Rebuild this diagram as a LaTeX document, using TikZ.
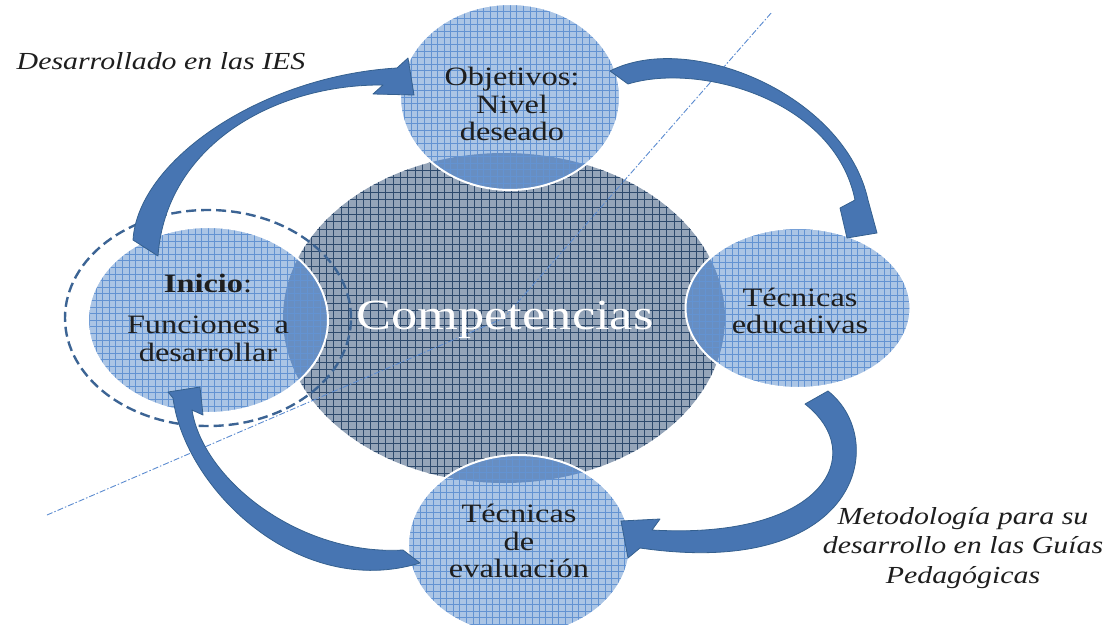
\documentclass[tikz,border=0pt]{standalone}
\usepackage{fontspec}
\setmainfont{Liberation Serif}[FakeStretch=1.22]
\usetikzlibrary{shapes.geometric}
\definecolor{smallfill}{HTML}{ABC5E5}
\definecolor{smallgrid}{HTML}{6393D2}
\definecolor{bigfill}{HTML}{95A5B9}
\definecolor{biggrid}{HTML}{2E4A6C}
\definecolor{overfill}{HTML}{678EC2}
\definecolor{arrowfill}{HTML}{4775B2}
\definecolor{arrowedge}{HTML}{35608F}
\definecolor{dashcol}{HTML}{3C6494}
\definecolor{axiscol}{HTML}{5B8BD0}
\definecolor{txtcol}{HTML}{1E1E1E}
\tikzset{
  bigcirc/.style={ellipse, minimum width=442pt, minimum height=330pt, inner sep=0pt,
    fill=bigfill,
    path picture={\draw[biggrid, line width=0.9pt, step=7.4pt]
      (path picture bounding box.south west) grid (path picture bounding box.north east);}},
  smallcirc/.style 2 args={ellipse, minimum width=#1, minimum height=#2, inner sep=0pt,
    fill=smallfill, draw=white, line width=2pt,
    path picture={
      \fill[overfill] (comp.center) ellipse [x radius=221pt, y radius=165pt];
      \draw[smallgrid, line width=0.6pt, step=6.6pt]
      (path picture bounding box.south west) grid (path picture bounding box.north east);}},
  ring/.style={ellipse, draw=dashcol, line width=2.4pt, dash pattern=on 10pt off 5pt,
    minimum width=286pt, minimum height=216pt, inner sep=0pt},
  axisline/.style={axiscol, line width=0.9pt, dash pattern=on 6pt off 2pt on 1.5pt off 2pt},
  circtext/.style={text=txtcol, align=center, font=\fontsize{26.5}{27.5}\selectfont, inner sep=0pt},
  notetext/.style={text=txtcol, align=center, font=\fontsize{24.5}{29.5}\selectfont\itshape, inner sep=0pt},
  blockarrow/.style={fill=arrowfill, draw=arrowedge, line width=0.8pt, line join=round}
}
\begin{document}
\begin{tikzpicture}[x=1pt,y=-1pt]
\useasboundingbox (0,0) rectangle (1119,624);
% central circle
\node[bigcirc] (comp) at (504,318) {};
% axis line
\coordinate (axA) at (47,515);
\coordinate (axB) at (772,12);
\draw[axisline] (axA) -- (comp.center) -- (axB);
% small circles
\node[smallcirc={220pt}{186pt}] (obj) at (510,97) {};
\node[smallcirc={225pt}{160pt}] (tece) at (798,308) {};
\node[smallcirc={222pt}{180pt}] (tecv) at (519,545) {};
\node[smallcirc={240pt}{186pt}] (ini) at (208,320) {};
\node[ring] (inring) at (208,318) {};
% texts
\node[text=white, inner sep=0pt, font=\fontsize{43}{45}\selectfont] (comptxt) at (505,320) {Competencias};
\node[circtext] (objT) at (512,104) {Objetivos:\\Nivel\\deseado};
\node[circtext] (teceT) at (800,311) {Técnicas\\educativas};
\node[circtext] (tecvT) at (519,541) {Técnicas\\de\\evaluación};
\node[circtext] (iniT) at (208,283) {\textbf{Inicio}:};
\node[circtext] (funT) at (208,339) {\makebox[162pt][s]{Funciones\hfill a}\\desarrollar};
\node[notetext] (desT) at (161,61) {Desarrollado en las IES};
\node[notetext] (metT) at (963,548) {Metodología para su\\desarrollo en las Guías\\Pedagógicas};
% arrows
\draw[blockarrow] (133,240) .. controls (138,160) and (262,76) .. (397,68)
  -- (408,58) -- (414,95) -- (373,94) -- (383,85)
  .. controls (275,84) and (166,145) .. (158,256) -- cycle;
\draw[blockarrow] (610,71) .. controls (690,30) and (845,95) .. (868,200)
  -- (877,233) -- (847,238) -- (840,208) -- (855,200)
  .. controls (835,100) and (700,62) .. (628,84) -- cycle;
\draw[blockarrow] (828,391) .. controls (890,440) and (860,580) .. (640,548)
  -- (628,558) -- (621,521) -- (660,519) -- (652,530)
  .. controls (822,540) and (870,455) .. (805,404) -- cycle;
\draw[blockarrow] (420,563) .. controls (300,600) and (185,490) .. (173,398)
  -- (168,392) -- (200,387) -- (203,415) -- (192,410)
  .. controls (203,480) and (300,556) .. (403,550) -- cycle;
\end{tikzpicture}
\end{document}
